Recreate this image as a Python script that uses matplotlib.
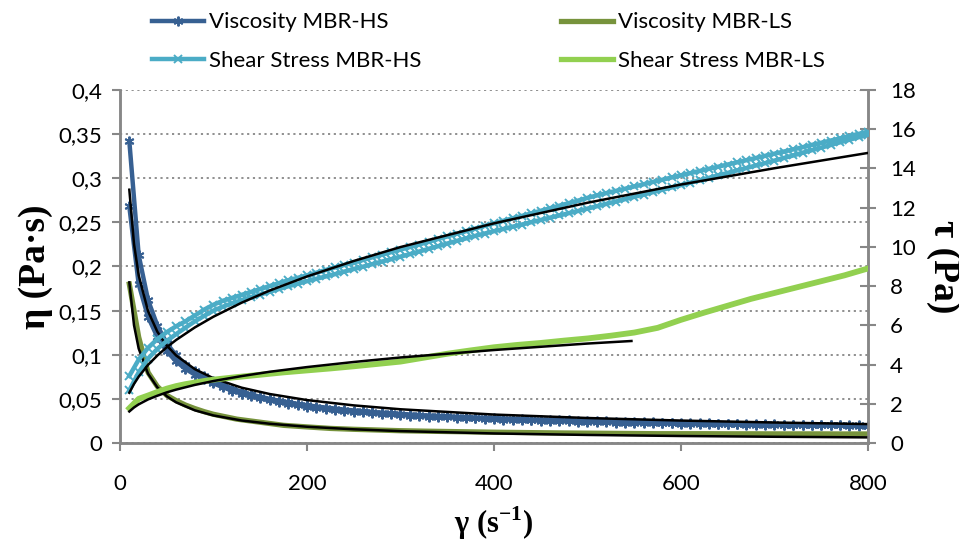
import matplotlib
matplotlib.use("Agg")
import matplotlib.pyplot as plt
from matplotlib.lines import Line2D
from matplotlib.ticker import FuncFormatter, MultipleLocator

# --- data ---
# MBR-HS: shear rate steps (s-1), up and down sweep
gamma_hs = list(range(10, 810, 10))

hs_stress_up = [3.42, 4.25, 4.85, 5.3, 5.65, 5.95, 6.2, 6.5, 6.8, 7.05,
                7.25, 7.4, 7.55, 7.7, 7.85, 8.0, 8.15, 8.3, 8.42, 8.55,
                8.68, 8.82, 8.95, 9.08, 9.2, 9.33, 9.47, 9.6, 9.73, 9.86,
                9.99, 10.12, 10.26, 10.4, 10.53, 10.67, 10.8, 10.93, 11.07, 11.2,
                11.33, 11.46, 11.58, 11.71, 11.84, 11.97, 12.1, 12.23, 12.36, 12.5,
                12.62, 12.74, 12.85, 12.96, 13.08, 13.19, 13.31, 13.42, 13.54, 13.65,
                13.76, 13.87, 13.98, 14.09, 14.2, 14.31, 14.42, 14.53, 14.64, 14.75,
                14.86, 14.97, 15.08, 15.2, 15.31, 15.42, 15.53, 15.65, 15.76, 15.87]
hs_stress_down = [2.68, 3.6, 4.3, 4.8, 5.2, 5.55, 5.88, 6.2, 6.48, 6.75,
                  6.95, 7.12, 7.28, 7.43, 7.57, 7.71, 7.85, 7.99, 8.12, 8.25,
                  8.37, 8.49, 8.61, 8.74, 8.87, 8.99, 9.12, 9.25, 9.37, 9.5,
                  9.63, 9.76, 9.9, 10.03, 10.17, 10.3, 10.43, 10.56, 10.68, 10.8,
                  10.91, 11.03, 11.14, 11.26, 11.37, 11.49, 11.6, 11.72, 11.83, 11.95,
                  12.07, 12.19, 12.31, 12.43, 12.55, 12.67, 12.79, 12.91, 13.03, 13.15,
                  13.27, 13.4, 13.52, 13.65, 13.77, 13.9, 14.02, 14.15, 14.27, 14.4,
                  14.53, 14.66, 14.8, 14.93, 15.06, 15.19, 15.33, 15.46, 15.59, 15.72]
hs_visc_up = [0.342, 0.213, 0.162, 0.133, 0.113, 0.0992, 0.0886, 0.0813, 0.0756, 0.0705,
              0.0659, 0.0617, 0.0581, 0.055, 0.0523, 0.05, 0.0479, 0.0461, 0.0443, 0.0428,
              0.0413, 0.0401, 0.0389, 0.0378, 0.0368, 0.0359, 0.0351, 0.0343, 0.0336, 0.0329,
              0.0322, 0.0316, 0.0311, 0.0306, 0.0301, 0.0296, 0.0292, 0.0288, 0.0284, 0.028,
              0.0276, 0.0273, 0.0269, 0.0266, 0.0263, 0.026, 0.0257, 0.0255, 0.0252, 0.025,
              0.0247, 0.0245, 0.0242, 0.024, 0.0238, 0.0236, 0.0234, 0.0231, 0.0229, 0.0228,
              0.0226, 0.0224, 0.0222, 0.022, 0.0218, 0.0217, 0.0215, 0.0214, 0.0212, 0.0211,
              0.0209, 0.0208, 0.0207, 0.0205, 0.0204, 0.0203, 0.0202, 0.0201, 0.0199, 0.0198]
hs_visc_down = [0.268, 0.18, 0.143, 0.12, 0.104, 0.0925, 0.084, 0.0775, 0.072, 0.0675,
                0.0632, 0.0593, 0.056, 0.0531, 0.0505, 0.0482, 0.0462, 0.0444, 0.0427, 0.0413,
                0.0399, 0.0386, 0.0374, 0.0364, 0.0355, 0.0346, 0.0338, 0.033, 0.0323, 0.0317,
                0.0311, 0.0305, 0.03, 0.0295, 0.0291, 0.0286, 0.0282, 0.0278, 0.0274, 0.027,
                0.0266, 0.0263, 0.0259, 0.0256, 0.0253, 0.025, 0.0247, 0.0244, 0.0241, 0.0239,
                0.0237, 0.0234, 0.0232, 0.023, 0.0228, 0.0226, 0.0224, 0.0223, 0.0221, 0.0219,
                0.0218, 0.0216, 0.0215, 0.0213, 0.0212, 0.0211, 0.0209, 0.0208, 0.0207, 0.0206,
                0.0205, 0.0204, 0.0203, 0.0202, 0.0201, 0.02, 0.0199, 0.0198, 0.0197, 0.0197]

# MBR-LS
gamma_ls = [10, 20, 30, 40, 50, 60, 70, 80, 90, 100, 125, 150, 175, 200, 225, 250,
            275, 300, 325, 350, 375, 400, 425, 450, 475, 500, 525, 550, 575, 600,
            625, 650, 675, 700, 725, 750, 775, 800]
ls_stress = [1.77, 2.25, 2.42, 2.6, 2.77, 2.9, 3.0, 3.08, 3.16, 3.23, 3.36, 3.48,
             3.6, 3.7, 3.8, 3.91, 4.03, 4.15, 4.35, 4.55, 4.72, 4.88, 5.0, 5.1,
             5.22, 5.33, 5.47, 5.63, 5.87, 6.28, 6.65, 7.0, 7.35, 7.65, 7.95, 8.25,
             8.55, 8.9]
ls_visc = [0.18, 0.12, 0.08, 0.064, 0.054, 0.048, 0.043, 0.039, 0.0355, 0.0325,
           0.027, 0.0235, 0.02, 0.0182, 0.0165, 0.0155, 0.0147, 0.0139, 0.0134, 0.013,
           0.0126, 0.0122, 0.0119, 0.0116, 0.0113, 0.0111, 0.0109, 0.0107, 0.0105, 0.0105,
           0.0105, 0.0104, 0.0104, 0.0103, 0.0103, 0.0103, 0.0102, 0.0102]

# black trend lines
fit_x = [10, 15, 20, 30, 40, 50, 60, 80, 100, 130, 160, 200, 250, 300, 400, 500, 600, 700, 800]
fit_hs_visc = [0.287, 0.2255, 0.19, 0.1495, 0.126, 0.1105, 0.0992, 0.0837, 0.0733, 0.0627,
               0.0555, 0.0486, 0.0426, 0.0382, 0.0322, 0.0283, 0.0254, 0.0232, 0.0214]
fit_hs_stress = [2.56, 3.01, 3.38, 3.98, 4.46, 4.88, 5.25, 5.89, 6.44, 7.15,
                 7.77, 8.49, 9.28, 9.99, 11.2, 12.25, 13.18, 14.01, 14.79]
fit_ls_visc = [0.182, 0.1335, 0.107, 0.0785, 0.063, 0.053, 0.0461, 0.037, 0.0312, 0.0255,
               0.0218, 0.0184, 0.0155, 0.01345, 0.0108, 0.0091, 0.0079, 0.00703, 0.00634]
fit_ls_x = [10, 15, 20, 30, 40, 50, 60, 80, 100, 130, 160, 200, 250, 300, 400, 500, 547]
fit_ls_stress = [1.607, 1.81, 1.97, 2.22, 2.41, 2.58, 2.72, 2.96, 3.16, 3.41,
                 3.63, 3.87, 4.13, 4.36, 4.74, 5.07, 5.2]

labels = ["Viscosity MBR-HS", "Shear Stress MBR-HS", "Viscosity MBR-LS", "Shear Stress MBR-LS"]
c_visc_hs = "#376092"
c_stress_hs = "#4BACC6"
c_visc_ls = "#77933C"
c_stress_ls = "#92D050"
grey = "#878787"

tick_font = "Lato"
label_font = "Liberation Serif"
plt.rcParams["mathtext.fontset"] = "custom"
plt.rcParams["mathtext.rm"] = "Liberation Serif"
plt.rcParams["mathtext.bf"] = "Liberation Serif:bold"

fig = plt.figure(figsize=(9.59, 5.45), dpi=100)
ax = fig.add_axes([0.1251, 0.1872, 0.78, 0.6477])
ax2 = ax.twinx()

star = (6, 2, 0)
hs_x = gamma_hs + gamma_hs[::-1]

ax.plot(hs_x, hs_visc_up + hs_visc_down[::-1], color=c_visc_hs, lw=3.2,
        marker=star, ms=7, mew=1.4, zorder=3)
ax.plot(gamma_ls, ls_visc, color=c_visc_ls, lw=3.8, zorder=3)
ax.plot(fit_x, fit_hs_visc, color="black", lw=1.8, zorder=4)
ax.plot(fit_x, fit_ls_visc, color="black", lw=1.8, zorder=4)

ax2.plot(hs_x, hs_stress_up + hs_stress_down[::-1], color=c_stress_hs, lw=3.2,
         marker="x", ms=6, mew=1.4, zorder=3)
ax2.plot(gamma_ls, ls_stress, color=c_stress_ls, lw=4.2, zorder=3)
ax2.plot(fit_x, fit_hs_stress, color="black", lw=1.8, zorder=4)
ax2.plot(fit_ls_x, fit_ls_stress, color="black", lw=1.8, zorder=4)

ax.set_xlim(0, 800)
ax.set_ylim(0, 0.4)
ax2.set_ylim(0, 18)
ax.xaxis.set_major_locator(MultipleLocator(200))
ax.yaxis.set_major_locator(MultipleLocator(0.05))
ax2.yaxis.set_major_locator(MultipleLocator(2))
ax.yaxis.set_major_formatter(FuncFormatter(
    lambda v, p: f"{v:.2f}".rstrip("0").rstrip(".").replace(".", ",") if abs(v) > 1e-9 else "0"))

ax.grid(axis="y", color=grey, ls=(0, (1.2, 2)), lw=1.3)
ax.set_axisbelow(True)

for a in (ax, ax2):
    for s in a.spines.values():
        s.set_color(grey)
        s.set_linewidth(1.8)
    a.spines["top"].set_visible(False)
ax.tick_params(axis="both", colors=grey, length=6, width=1.5, labelcolor="black",
               labelsize=16, pad=7)
ax.tick_params(axis="x", pad=16)
ax2.tick_params(axis="y", colors=grey, length=12, width=1.5, direction="inout",
                labelcolor="black", labelsize=16, pad=10)
for t in ax.get_xticklabels() + ax.get_yticklabels() + ax2.get_yticklabels():
    t.set_fontfamily(tick_font)

ax.set_ylabel("η (Pa·s)", fontfamily=label_font, fontweight="bold", fontsize=27, labelpad=4)
ax2.set_ylabel("τ (Pa)", fontfamily=label_font, fontweight="bold", fontsize=27,
               rotation=270, labelpad=32)
ax.set_xlabel("γ (s$^{\\mathbf{-1}}$)", fontfamily=label_font, fontweight="bold",
              fontsize=22, labelpad=8)

handles = [
    Line2D([], [], color=c_visc_hs, lw=3.2, marker=star, ms=7, mew=1.4),
    Line2D([], [], color=c_stress_hs, lw=3.2, marker="x", ms=6, mew=1.4),
    Line2D([], [], color=c_visc_ls, lw=3.8),
    Line2D([], [], color=c_stress_ls, lw=3.8),
]
fig.legend(handles, labels, ncol=2, loc="upper left", bbox_to_anchor=(0.14, 1.01),
           frameon=False, prop={"family": tick_font, "size": 16},
           handlelength=2.35, handletextpad=0.2, columnspacing=6.3,
           labelspacing=0.85, borderpad=0.3)

fig.savefig("out.png", dpi=100)
